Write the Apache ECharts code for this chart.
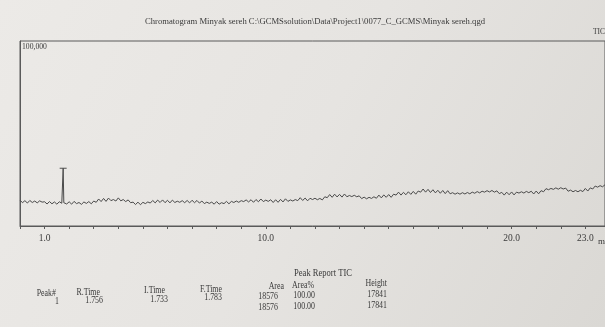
<!DOCTYPE html>
<html>
<head>
<meta charset="utf-8">
<script src="https://cdn.jsdelivr.net/npm/echarts@6/dist/echarts.min.js"></script>
<style>
  html, body { margin: 0; padding: 0; background: #e4e2de; }
  #chart { width: 605px; height: 327px; }
</style>
</head>
<body>
<div id="chart"></div>
<script>
// TIC trace, one reading every 0.1 min starting at 0.0 min
const timeStep = 0.1;
const tic = [
  14000, 12600, 13700, 12400, 13800, 12700, 13500, 12500, 13600, 12900,
  13100, 11900, 13200, 12000, 13000, 11800, 13100, 12300, 12900, 11900,
  13100, 11800, 13300, 12100, 12700, 11700, 13000, 12200, 13200, 12000,
  13500, 12800, 14600, 13200, 14900, 13300, 15100, 13700, 14300, 13500,
  15200, 13600, 14300, 13200, 14100, 12600, 12900, 11600, 12900, 11500,
  12800, 12100, 13000, 12400, 13800, 12500, 14000, 12700, 14100, 12600,
  13900, 12500, 14000, 12700, 13400, 12800, 13700, 12600, 13800, 12500,
  13900, 12600, 13800, 12400, 13500, 12100, 12900, 12200, 12900, 11800,
  13200, 11800, 12600, 12100, 13300, 12000, 13300, 12700, 13500, 12800,
  13700, 13200, 14100, 13000, 14200, 12800, 14300, 13100, 14600, 13200,
  14000, 13300, 14200, 12700, 14200, 12800, 14400, 13000, 14700, 13300,
  14100, 13500, 14300, 13700, 15300, 13800, 15100, 13600, 15000, 14300,
  15000, 14200, 14900, 14100, 15800, 15300, 17000, 15500, 17200, 15700,
  17100, 15600, 17300, 15800, 16500, 15900, 16600, 15800, 16300, 14800,
  15600, 14700, 15500, 14900, 15800, 15000, 16700, 15200, 16800, 15500,
  17000, 15500, 17200, 16700, 18300, 16700, 18200, 16900, 18500, 17100,
  18700, 17200, 18900, 18300, 20000, 18300, 19800, 18100, 19600, 17900,
  19300, 17700, 19200, 17500, 19100, 17400, 18000, 17200, 17900, 17200,
  18000, 17300, 18100, 17400, 18300, 17700, 18600, 17900, 18800, 18300,
  19100, 18400, 19200, 18300, 19000, 17500, 18200, 16700, 18300, 16900,
  18400, 16800, 18300, 17800, 18500, 17800, 18700, 18000, 18800, 17300,
  18900, 17400, 19100, 18500, 20200, 19600, 20300, 19800, 20600, 19900,
  20700, 20000, 20500, 18800, 19400, 18500, 19200, 18500, 19300, 18600,
  20300, 18900, 20600, 20000, 21600, 21000, 21800, 21200, 22300
];

// the single peak (I.Time, R.Time, F.Time)
const peakTime = [1.733, 1.756, 1.783];
const peakTic = [12900, 31200, 12600];

const xLabels = [1, 10, 20, 23];
const yMax = 100000;

const tableHead = ['Peak#', 'R.Time', 'I.Time', 'F.Time', 'Area', 'Area%', 'Height'];
const tableRow1 = ['1', '1.756', '1.733', '1.783', '18576', '100.00', '17841'];
const tableTotal = ['18576', '100.00', '17841'];

let trace = tic.map((v, i) => [+(i * timeStep).toFixed(1), v]);
peakTime.forEach((t, i) => trace.push([t, peakTic[i]]));
trace.sort((a, b) => a[0] - b[0]);

const font = '"Liberation Serif", "DejaVu Serif", serif';
const ink = '#3a3a3a';

function txt(text, x, y, align, size, sx) {
  return {
    type: 'text', x: x, y: y, scaleX: sx || 1,
    style: {
      text: text, fill: ink, fontFamily: font, fontSize: size || 9.5,
      textAlign: align || 'right', textVerticalAlign: 'middle'
    }
  };
}

// column right edges, with the slight slant of the photo
const headX = [56, 100, 165, 222, 284, 314, 387];
const headY = [293, 292, 290, 289, 286, 285, 283];
const row1X = [59, 103, 168, 222, 278, 315, 387];
const row1Y = [301, 300, 299, 297, 296, 295, 294];
const totX = [278, 315, 387];
const totY = [307, 306, 305];
const narrow = 0.83;

const graphics = [
  txt('Chromatogram Minyak sereh C:\\GCMSsolution\\Data\\Project1\\0077_C_GCMS\\Minyak sereh.qgd', 315, 22, 'center', 9, 0.96),
  txt('TIC', 593, 32, 'left', 9, narrow),
  txt('100,000', 22, 47, 'left', 8.5, 0.9),
  txt('min', 598, 242, 'left', 9),
  txt('Peak Report TIC', 323, 273, 'center', 9.5, 0.9)
];
tableHead.forEach((s, i) => graphics.push(txt(s, headX[i], headY[i], 'right', 9.5, narrow)));
tableRow1.forEach((s, i) => graphics.push(txt(s, row1X[i], row1Y[i], 'right', 9.5, narrow)));
tableTotal.forEach((s, i) => graphics.push(txt(s, totX[i], totY[i], 'right', 9.5, narrow)));

const chart = echarts.init(document.getElementById('chart'));
chart.setOption({
  backgroundColor: {
    type: 'linear', x: 0, y: 0, x2: 1, y2: 1,
    colorStops: [
      { offset: 0, color: '#eceae7' },
      { offset: 0.5, color: '#e6e4e1' },
      { offset: 1, color: '#dad8d4' }
    ]
  },
  animation: false,
  grid: {
    left: 20, right: 0, top: 41, bottom: 101,
    show: true, borderColor: '#5a5a5a', borderWidth: 1,
    backgroundColor: 'transparent'
  },
  xAxis: {
    type: 'value', min: 0, max: 23.8, interval: 1,
    axisLine: { show: true, lineStyle: { color: '#5a5a5a', width: 1 } },
    axisTick: { show: true, length: 3, lineStyle: { color: '#5a5a5a' } },
    splitLine: { show: false },
    axisLabel: {
      showMaxLabel: false, margin: 7,
      color: ink, fontFamily: font, fontSize: 9.5,
      formatter: v => xLabels.includes(v) ? v.toFixed(1) : ''
    }
  },
  yAxis: {
    type: 'value', min: 0, max: yMax,
    axisLine: { show: true, lineStyle: { color: '#5a5a5a', width: 1 } },
    axisTick: { show: false },
    axisLabel: { show: false },
    splitLine: { show: false }
  },
  series: [
    {
      type: 'line', data: trace, showSymbol: false,
      lineStyle: { color: '#4a4a4a', width: 1 }
    },
    {
      type: 'scatter', data: [[peakTime[1], peakTic[1]]],
      symbol: 'rect', symbolSize: [7, 1.2],
      itemStyle: { color: '#4a4a4a' }
    }
  ],
  graphic: graphics
});
</script>
</body>
</html>
